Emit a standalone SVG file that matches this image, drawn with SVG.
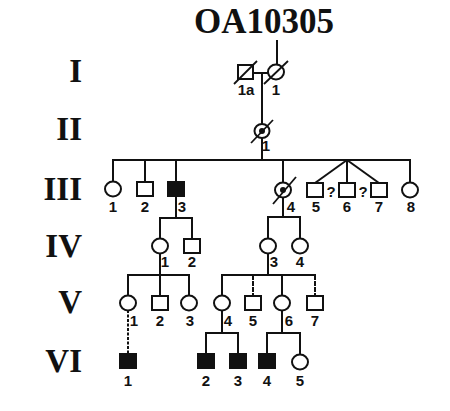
<svg xmlns="http://www.w3.org/2000/svg" width="450" height="411" viewBox="0 0 450 411">
<style>
.ln{stroke:#111;stroke-width:2;fill:none}
.dash{stroke:#111;stroke-width:2;fill:none;stroke-dasharray:3 1.5}
.dash2{stroke:#111;stroke-width:2;fill:none;stroke-dasharray:5 1}
.sl{stroke:#111;stroke-width:1.8;fill:none}
.sym{fill:#fff;stroke:#111;stroke-width:2}
.aff{fill:#111;stroke:#111;stroke-width:2}
.dot{fill:#111}
.lbl{font-family:"Liberation Sans",Arial,sans-serif;font-size:15px;font-weight:bold;text-anchor:middle;fill:#111}
.gen{font-family:"Liberation Serif","Times New Roman",serif;font-size:33px;font-weight:bold;text-anchor:end;fill:#111}
.title{font-family:"Liberation Serif","Times New Roman",serif;font-size:35px;font-weight:bold;text-anchor:middle;fill:#111}
</style>
<rect width="450" height="411" fill="#fff"/>
<text class="title" x="264" y="33">OA10305</text>
<g id="generations">
<text class="gen" x="82" y="82">I</text>
<text class="gen" x="82" y="140">II</text>
<text class="gen" x="82" y="200">III</text>
<text class="gen" x="82" y="257">IV</text>
<text class="gen" x="82" y="313">V</text>
<text class="gen" x="82" y="372">VI</text>
</g>
<g id="connectors">
<line class="ln" x1="277" y1="40" x2="277" y2="65"/>
<line class="ln" x1="253" y1="73" x2="269" y2="73"/>
<line class="ln" x1="262" y1="73" x2="262" y2="124"/>
<line class="ln" x1="262" y1="138" x2="262" y2="160"/>
<line class="ln" x1="112" y1="160" x2="411" y2="160"/>
<line class="ln" x1="113" y1="160" x2="113" y2="182"/>
<line class="ln" x1="145" y1="160" x2="145" y2="182"/>
<line class="ln" x1="176" y1="160" x2="176" y2="182"/>
<line class="ln" x1="283" y1="160" x2="283" y2="183"/>
<line class="ln" x1="347" y1="160" x2="315" y2="183"/>
<line class="ln" x1="347" y1="160" x2="347" y2="183"/>
<line class="ln" x1="347" y1="160" x2="379" y2="183"/>
<line class="ln" x1="410" y1="160" x2="410" y2="183"/>
<line class="ln" x1="176" y1="196" x2="176" y2="218"/>
<line class="ln" x1="159" y1="218" x2="193" y2="218"/>
<line class="ln" x1="160" y1="218" x2="160" y2="239"/>
<line class="ln" x1="192" y1="218" x2="192" y2="239"/>
<line class="ln" x1="283" y1="197" x2="283" y2="217"/>
<line class="ln" x1="267" y1="217" x2="301" y2="217"/>
<line class="ln" x1="268" y1="217" x2="268" y2="239"/>
<line class="ln" x1="300" y1="217" x2="300" y2="239"/>
<line class="ln" x1="160" y1="253" x2="160" y2="296"/>
<line class="ln" x1="127" y1="275" x2="190" y2="275"/>
<line class="ln" x1="128" y1="275" x2="128" y2="296"/>
<line class="ln" x1="189" y1="275" x2="189" y2="296"/>
<line class="dash" x1="128" y1="310" x2="128" y2="354"/>
<line class="ln" x1="268" y1="253" x2="268" y2="275"/>
<line class="ln" x1="221" y1="275" x2="316" y2="275"/>
<line class="ln" x1="222" y1="275" x2="222" y2="296"/>
<line class="dash2" x1="253" y1="275" x2="253" y2="296"/>
<line class="ln" x1="282" y1="275" x2="282" y2="296"/>
<line class="dash2" x1="315" y1="275" x2="315" y2="296"/>
<line class="ln" x1="222" y1="310" x2="222" y2="333"/>
<line class="ln" x1="205" y1="333" x2="239" y2="333"/>
<line class="ln" x1="206" y1="333" x2="206" y2="354"/>
<line class="ln" x1="238" y1="333" x2="238" y2="354"/>
<line class="ln" x1="282" y1="310" x2="282" y2="333"/>
<line class="ln" x1="266" y1="333" x2="301" y2="333"/>
<line class="ln" x1="267" y1="333" x2="267" y2="354"/>
<line class="ln" x1="300" y1="333" x2="300" y2="355"/>
</g>
<g id="I-1a"><rect class="sym" x="238" y="65" width="15" height="14"/><line class="sl" x1="234" y1="84" x2="257" y2="61"/><text class="lbl" x="246" y="95">1a</text></g>
<g id="I-1"><ellipse class="sym" cx="276" cy="72" rx="8" ry="7.5"/><line class="sl" x1="264" y1="84" x2="288" y2="61"/><text class="lbl" x="276" y="95">1</text></g>
<g id="II-1"><ellipse class="sym" cx="262" cy="131" rx="7.5" ry="7"/><circle class="dot" cx="262" cy="131" r="3"/><line class="sl" x1="251" y1="143" x2="273" y2="120"/><text class="lbl" x="266" y="151">1</text></g>
<g id="III-1"><ellipse class="sym" cx="113" cy="189" rx="8" ry="7.5"/><text class="lbl" x="113" y="212">1</text></g>
<g id="III-2"><rect class="sym" x="137" y="182" width="16" height="14"/><text class="lbl" x="145" y="212">2</text></g>
<g id="III-3"><rect class="aff" x="168" y="182" width="16" height="14"/><text class="lbl" x="182" y="212">3</text></g>
<g id="III-4"><ellipse class="sym" cx="283" cy="190" rx="8" ry="7.5"/><circle class="dot" cx="283" cy="190" r="3"/><line class="sl" x1="273" y1="204" x2="296" y2="177"/><text class="lbl" x="291" y="212">4</text></g>
<g id="III-5"><rect class="sym" x="307" y="183" width="16" height="14"/><text class="lbl" x="316" y="212">5</text></g>
<g id="III-6"><rect class="sym" x="339" y="183" width="16" height="14"/><text class="lbl" x="347" y="212">6</text></g>
<g id="III-7"><rect class="sym" x="371" y="183" width="16" height="14"/><text class="lbl" x="379" y="212">7</text></g>
<g id="III-q"><text class="lbl" x="331" y="197">?</text><text class="lbl" x="363" y="197">?</text></g>
<g id="III-8"><ellipse class="sym" cx="410" cy="190" rx="8" ry="7.5"/><text class="lbl" x="411" y="212">8</text></g>
<g id="IV-1"><ellipse class="sym" cx="160" cy="246" rx="8" ry="7.5"/><text class="lbl" x="165" y="267">1</text></g>
<g id="IV-2"><rect class="sym" x="184" y="239" width="16" height="14"/><text class="lbl" x="192" y="267">2</text></g>
<g id="IV-3"><ellipse class="sym" cx="268" cy="246" rx="8" ry="7.5"/><text class="lbl" x="274" y="267">3</text></g>
<g id="IV-4"><ellipse class="sym" cx="300" cy="246" rx="8" ry="7.5"/><text class="lbl" x="300" y="267">4</text></g>
<g id="V-1"><ellipse class="sym" cx="128" cy="303" rx="8" ry="7.5"/><text class="lbl" x="134" y="326">1</text></g>
<g id="V-2"><rect class="sym" x="152" y="296" width="16" height="14"/><text class="lbl" x="160" y="326">2</text></g>
<g id="V-3"><ellipse class="sym" cx="189" cy="303" rx="8" ry="7.5"/><text class="lbl" x="190" y="326">3</text></g>
<g id="V-4"><ellipse class="sym" cx="222" cy="303" rx="8" ry="7.5"/><text class="lbl" x="228" y="326">4</text></g>
<g id="V-5"><rect class="sym" x="245" y="296" width="16" height="14"/><text class="lbl" x="253" y="326">5</text></g>
<g id="V-6"><ellipse class="sym" cx="282" cy="303" rx="8" ry="7.5"/><text class="lbl" x="289" y="326">6</text></g>
<g id="V-7"><rect class="sym" x="307" y="296" width="16" height="14"/><text class="lbl" x="315" y="326">7</text></g>
<g id="VI-1"><rect class="aff" x="120" y="354" width="16" height="14"/><text class="lbl" x="128" y="386">1</text></g>
<g id="VI-2"><rect class="aff" x="198" y="354" width="16" height="14"/><text class="lbl" x="206" y="386">2</text></g>
<g id="VI-3"><rect class="aff" x="230" y="354" width="16" height="14"/><text class="lbl" x="238" y="386">3</text></g>
<g id="VI-4"><rect class="aff" x="259" y="354" width="16" height="14"/><text class="lbl" x="267" y="386">4</text></g>
<g id="VI-5"><ellipse class="sym" cx="300" cy="362" rx="8" ry="7.5"/><text class="lbl" x="300" y="386">5</text></g>
</svg>
